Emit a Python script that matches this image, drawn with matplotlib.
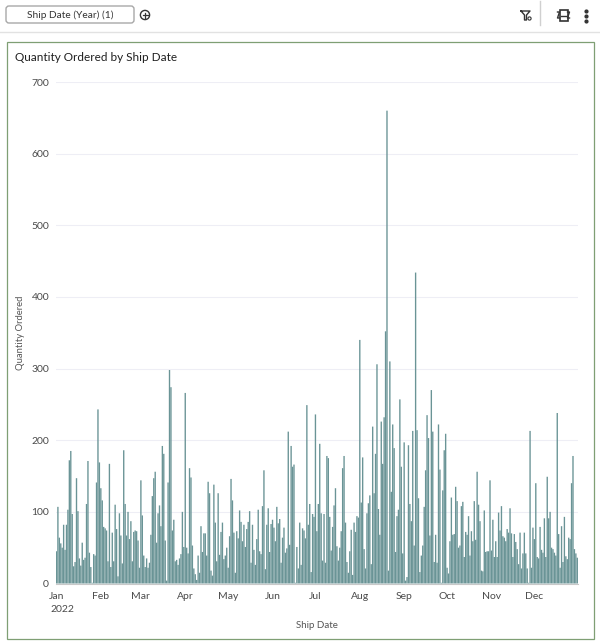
import matplotlib
matplotlib.use('Agg')
import matplotlib.pyplot as plt
import matplotlib.dates as mdates
from matplotlib.patches import Rectangle, FancyBboxPatch, Circle
import pandas as pd

plt.rcParams['font.family'] = ['Lato', 'DejaVu Sans']

dates = pd.date_range('2022-01-01', '2022-12-31', freq='D')

qty_q1 = [45, 107, 64, 56, 50, 82, 47, 82, 103, 172, 185, 97, 24, 30, 147, 101, 35, 25, 57, 33,
          36, 111, 171, 43, 23, 1, 41, 39, 141, 243, 169, 133, 116, 79, 77, 74, 31, 167, 23, 71,
          31, 110, 76, 10, 98, 67, 28, 186, 111, 67, 100, 62, 87, 31, 72, 74, 73, 60, 22, 144,
          95, 39, 23, 35, 22, 29, 68, 122, 147, 156, 57, 98, 109, 80, 192, 181, 60, 4, 141, 298,
          274, 74, 89, 31, 33, 26, 35, 41, 100, 51]
qty_q2 = [266, 50, 42, 161, 148, 53, 21, 13, 5, 39, 15, 80, 44, 70, 70, 39, 142, 126, 18, 11,
          138, 85, 31, 126, 40, 72, 85, 34, 39, 50, 22, 66, 146, 116, 71, 15, 73, 63, 102, 86,
          59, 82, 51, 76, 86, 101, 29, 82, 47, 26, 62, 103, 45, 41, 108, 158, 20, 82, 105, 44,
          83, 89, 78, 59, 107, 84, 90, 29, 64, 78, 43, 49, 212, 54, 192, 163, 166, 1, 51, 21,
          85, 26, 77, 74, 63, 249, 82, 111, 16, 97, 93]
qty_q3 = [236, 73, 111, 195, 98, 32, 97, 29, 178, 175, 93, 46, 79, 109, 133, 52, 32, 50, 73, 161,
          178, 85, 30, 15, 45, 75, 12, 85, 72, 94, 92, 340, 113, 176, 48, 21, 98, 112, 123, 27,
          219, 126, 181, 306, 104, 68, 226, 167, 232, 352, 660, 18, 310, 128, 222, 189, 44, 94, 103, 257,
          163, 42, 197, 4, 9, 193, 111, 87, 213, 53, 434, 214, 119, 16, 39, 53, 107, 158, 235, 203,
          67, 270, 212, 30, 68, 29, 222, 159, 1, 130, 186, 209]
qty_q4 = [22, 14, 59, 120, 68, 69, 135, 115, 50, 53, 108, 114, 37, 72, 68, 94, 39, 73, 59, 115,
          61, 156, 110, 87, 18, 17, 102, 44, 45, 45, 144, 46, 89, 37, 59, 37, 99, 74, 108, 66,
          64, 59, 76, 71, 105, 70, 37, 69, 58, 48, 27, 71, 21, 42, 71, 42, 21, 1, 213, 22,
          78, 62, 140, 37, 35, 79, 47, 43, 91, 37, 149, 91, 100, 50, 48, 43, 39, 238, 69, 22,
          80, 30, 93, 38, 34, 64, 62, 140, 178, 48, 42, 36]
qty = qty_q1 + qty_q2 + qty_q3 + qty_q4

y_ticks = [0, 100, 200, 300, 400, 500, 600, 700]
month_labels = ['Jan', 'Feb', 'Mar', 'Apr', 'May', 'Jun', 'Jul', 'Aug', 'Sep', 'Oct', 'Nov', 'Dec']
month_starts = pd.date_range('2022-01-01', '2022-12-01', freq='MS')

fig = plt.figure(figsize=(6.0, 6.44), dpi=100)
W, H = 600, 644

# page furniture, in pixel coordinates
bg = fig.add_axes([0, 0, 1, 1])
bg.set_xlim(0, W)
bg.set_ylim(H, 0)
bg.axis('off')
bg.plot([0, 600], [31.5, 31.5], color='#e2e2e2', lw=1)
bg.add_patch(Rectangle((6.5, 41.5), 587, 597, fc='white', ec='#7f9f74', lw=0.9))
bg.add_patch(FancyBboxPatch((6, 6), 128, 17, boxstyle='round,pad=0,rounding_size=3',
                            fc='white', ec='#a8a8a8', lw=1))
bg.text(70.5, 15, 'Ship Date (Year) (1)', fontsize=7.3, color='#333333', ha='center', va='center')
bg.add_patch(Circle((145, 15), 4.6, fc='white', ec='#333333', lw=1))
bg.plot([142.5, 147.5], [15, 15], color='#333333', lw=0.9)
bg.plot([145, 145], [12.5, 17.5], color='#333333', lw=0.9)
# filter icon
bg.plot([521, 530, 526.5, 526.5, 524.5, 524.5, 521], [11, 11, 15, 20, 20, 15, 11], color='#333333', lw=1)
bg.add_patch(Circle((529.5, 18.5), 1.6, fc='white', ec='#333333', lw=0.8))
bg.plot([539.5, 539.5], [1, 25], color='#d0d0d0', lw=1)
# properties icon
bg.add_patch(Rectangle((559.5, 10), 8, 11, fc='white', ec='#333333', lw=1.2))
bg.plot([557.5, 559.5, 557.5, 559.5], [12, 12, 18, 18], color='#333333', lw=1)
bg.plot([567.5, 569.5, 567.5, 569.5], [12, 12, 18, 18], color='#333333', lw=1)
bg.plot([561, 566], [15.5, 15.5], color='#333333', lw=1)
bg.plot([585.5] * 3, [10.5, 15.5, 20.5], ls='none', marker='o', ms=2, color='#333333')
bg.text(15, 57, 'Quantity Ordered by Ship Date', fontsize=8.5, color='#1f1f1f', ha='left', va='center')

# chart
ax = fig.add_axes([56 / W, 1 - 583.5 / H, (578 - 56) / W, (583.5 - 82) / H])
ax.patch.set_alpha(0)
ax.bar(dates, qty, width=0.95, color='#6a9496', linewidth=0, snap=False)
ax.set_xlim(dates[0] - pd.Timedelta(hours=8), dates[-1] + pd.Timedelta(hours=12))
ax.set_ylim(0, 700)
ax.set_yticks(y_ticks)
ax.set_xticks(mdates.date2num(month_starts))
ax.set_xticklabels(month_labels)
ax.tick_params(axis='both', length=0, labelsize=7.5, labelcolor='#4a4a4a')
ax.tick_params(axis='x', pad=6)
ax.tick_params(axis='y', pad=5)
ax.grid(axis='y', color='#eeeef5', lw=0.8)
ax.set_axisbelow(True)
for side in ['top', 'left', 'right']:
    ax.spines[side].set_visible(False)
ax.spines['bottom'].set_color('#c9c9c9')

bg.text(50, 609, '2022', fontsize=7.5, color='#4a4a4a', ha='left', va='center')
bg.text(317, 626, 'Ship Date', fontsize=7, color='#555555', ha='center', va='center')
bg.text(20.5, 333, 'Quantity Ordered', fontsize=6.8, color='#555555', ha='center', va='center', rotation=90)

fig.savefig('out.png', dpi=100)
